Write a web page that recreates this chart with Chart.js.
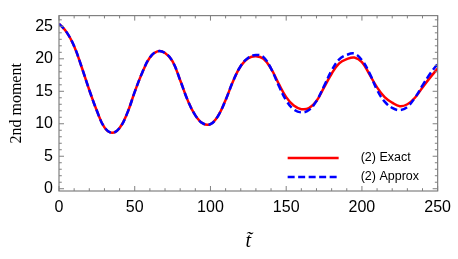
<!DOCTYPE html>
<html><head><meta charset="utf-8">
<script src="https://cdn.jsdelivr.net/npm/chart.js@4"></script>
<style>html,body{margin:0;padding:0;background:#fff}</style>
</head><body>
<canvas id="c" width="458" height="259"></canvas>
<script>
const tValues = [0,5,10,15,20,25,30,35,40,45,50,55,60,65,70,75,80,85,90,95,100,105,110,115,120,125,130,135,140,145,150,155,160,165,170,175,180,185,190,195,200,205,210,215,220,225,230,235,240,245,250];
const exactValues = [25.4,24.1,21.95,18.7,15.2,12.0,9.45,8.6,9.35,11.6,14.9,17.9,20.2,21.15,20.9,19.6,16.7,13.6,11.3,10.05,9.95,11.2,13.65,16.6,18.9,20.1,20.4,20.0,18.5,16.2,14.1,12.8,12.25,12.4,13.5,15.6,17.7,19.3,19.95,20.2,19.5,17.6,15.6,14.1,13.25,12.7,13.0,14.0,15.6,17.1,18.5];
const approxValues = [25.4,24.1,21.95,18.7,15.2,12.0,9.45,8.6,9.35,11.6,14.9,17.9,20.2,21.15,20.9,19.6,16.7,13.6,11.3,10.05,9.95,11.2,13.65,16.6,18.9,20.15,20.6,20.25,18.5,15.9,13.6,12.2,11.75,12.1,13.5,15.8,18.2,19.9,20.6,20.8,19.8,17.8,15.2,13.4,12.45,12.1,12.6,14.0,15.9,17.7,19.2];
const xTickValues = [0,50,100,150,200,250];
const yTickValues = [0,5,10,15,20,25];
const seriesLabels = ['(2) Exact','(2) Approx'];
const xAxisTitle = 't\u0303';
const yAxisTitle = '2nd moment';

const frameTicks = {
  id: 'frameTicks',
  afterDraw(chart) {
    const {ctx, chartArea: a, scales: {x, y}} = chart;
    ctx.save();
    ctx.strokeStyle = '#808080';
    ctx.lineWidth = 1.2;
    ctx.strokeRect(a.left, a.top, a.right - a.left, a.bottom - a.top);
    ctx.lineWidth = 1;
    ctx.beginPath();
    for (let v = 0; v <= 250; v += 10) {
      const px = x.getPixelForValue(v);
      const len = v % 50 === 0 ? 5 : 2.8;
      ctx.moveTo(px, a.bottom); ctx.lineTo(px, a.bottom - len);
      ctx.moveTo(px, a.top); ctx.lineTo(px, a.top + len);
    }
    for (let v = 0; v <= 26; v += 1) {
      const py = y.getPixelForValue(v);
      const len = v % 5 === 0 ? 5 : 2.8;
      ctx.moveTo(a.left, py); ctx.lineTo(a.left + len, py);
      ctx.moveTo(a.right, py); ctx.lineTo(a.right - len, py);
    }
    ctx.stroke();
    ctx.restore();
  }
};

const legendBox = {
  id: 'legendBox',
  afterDraw(chart) {
    const ctx = chart.ctx;
    const a = chart.chartArea;
    chart.data.datasets.forEach((ds, i) => {
      const yy = a.bottom - 33 + i * 19;
      ctx.save();
      ctx.strokeStyle = ds.borderColor;
      ctx.lineWidth = ds.borderWidth;
      ctx.setLineDash(ds.borderDash || []);
      ctx.beginPath();
      ctx.moveTo(a.right - 150, yy); ctx.lineTo(a.right - 99, yy);
      ctx.stroke();
      ctx.setLineDash([]);
      ctx.fillStyle = '#000';
      ctx.font = '12.5px "Liberation Sans"';
      ctx.textBaseline = 'middle';
      ctx.fillText(ds.label, a.right - 77, yy);
      ctx.restore();
    });
  }
};

new Chart(document.getElementById('c'), {
  type: 'line',
  data: {
    datasets: [
      { label: seriesLabels[0], data: tValues.map((t, i) => ({x: t, y: exactValues[i]})),
        borderColor: '#ff0000', borderWidth: 2.5, pointRadius: 0, tension: 0.4, order: 2, fill: false },
      { label: seriesLabels[1], data: tValues.map((t, i) => ({x: t, y: approxValues[i]})),
        borderColor: '#0000ff', borderWidth: 2.5, borderDash: [7, 3.5], pointRadius: 0, tension: 0.4, order: 1, fill: false }
    ]
  },
  options: {
    responsive: false,
    animation: false,
    devicePixelRatio: 1,
    layout: { padding: { top: 1, right: 17, left: 0, bottom: 0 } },
    plugins: { legend: { display: false }, tooltip: { enabled: false } },
    scales: {
      x: {
        type: 'linear', min: 0, max: 250,
        afterBuildTicks: s => { s.ticks = xTickValues.map(v => ({value: v})); },
        afterFit: s => { s.height = 68; },
        grid: { display: false, drawTicks: false },
        border: { display: false },
        ticks: { font: { family: 'Liberation Sans', size: 16 }, color: '#000', padding: 7, maxRotation: 0 },
        title: { display: true, text: xAxisTitle, color: '#000',
                 font: { family: 'Liberation Serif', size: 20, style: 'italic' }, padding: { top: 4, bottom: 5 } }
      },
      y: {
        type: 'linear', min: -0.35, max: 26.65,
        afterBuildTicks: s => { s.ticks = yTickValues.map(v => ({value: v})); },
        afterFit: s => { s.width = 59; },
        grid: { display: false, drawTicks: false },
        border: { display: false },
        ticks: { font: { family: 'Liberation Sans', size: 16 }, color: '#000', padding: 6 },
        title: { display: true, text: yAxisTitle, color: '#000',
                 font: { family: 'Liberation Serif', size: 16 }, padding: { top: 7, bottom: 6 } }
      }
    }
  },
  plugins: [frameTicks, legendBox]
});
</script>
</body></html>
